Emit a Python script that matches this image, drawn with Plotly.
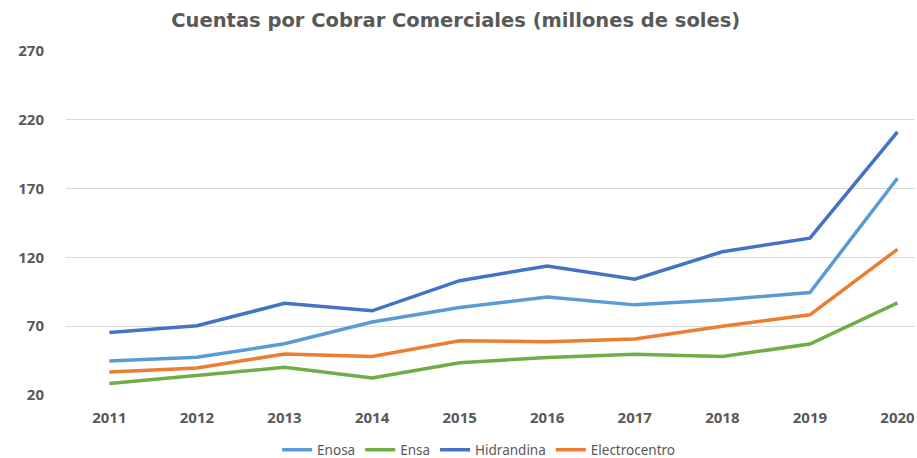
import plotly.graph_objects as go

years = [2011, 2012, 2013, 2014, 2015, 2016, 2017, 2018, 2019, 2020]
enosa = [44.8, 47.5, 57.2, 73.0, 83.6, 91.2, 85.5, 89.3, 94.5, 177.5]
ensa = [28.4, 34.2, 40.1, 32.3, 43.5, 47.3, 49.6, 48.0, 57.0, 87.0]
hidrandina = [65.5, 70.4, 86.6, 81.2, 103.1, 113.8, 104.2, 124.1, 134.0, 211.3]
electrocentro = [36.8, 39.6, 49.8, 48.0, 59.4, 58.7, 60.7, 70.0, 78.3, 125.9]
yticks = [20, 70, 120, 170, 220, 270]

series = [
    ("Enosa", enosa, "#5B9BD5"),
    ("Ensa", ensa, "#70AD47"),
    ("Hidrandina", hidrandina, "#4472C4"),
    ("Electrocentro", electrocentro, "#ED7D31"),
]

fig = go.Figure()
for name, vals, color in series:
    fig.add_trace(go.Scatter(x=years, y=vals, name=name, mode="lines",
                             line=dict(color=color, width=3.5)))

tickfont = dict(family="Open Sans", size=15, color="#595959", weight="bold")

fig.update_layout(
    width=917, height=458,
    paper_bgcolor="white", plot_bgcolor="white",
    margin=dict(l=66, r=2, t=51, b=63, autoexpand=False),
    title=dict(text="<b>Cuentas por Cobrar Comerciales (millones de soles)</b>",
               x=0.497, xanchor="center", y=0.956, yanchor="middle",
               font=dict(family="DejaVu Sans", size=19.5, color="#595959")),
    legend=dict(orientation="h", x=0.486, xanchor="center", y=-0.16, yanchor="middle",
                font=dict(family="Noto Sans", size=13.5, color="#595959"),
                itemwidth=30, tracegroupgap=0),
    xaxis=dict(range=[2010.505, 2020.2], tickmode="array", tickvals=years,
               ticktext=[str(y) for y in years], showgrid=False, zeroline=False,
               showline=False, ticks="", ticklabelstandoff=12, automargin=False,
               tickfont=tickfont),
    yaxis=dict(range=[20, 270], tickmode="array", tickvals=yticks,
               showgrid=True, gridcolor="#D9D9D9", gridwidth=1, zeroline=False,
               showline=False, ticks="", ticklabelstandoff=21, automargin=False,
               tickfont=tickfont),
)

fig.write_html("out.html", config={"displayModeBar": False},
               post_script="document.body.style.margin='0';document.body.style.overflow='hidden';")
